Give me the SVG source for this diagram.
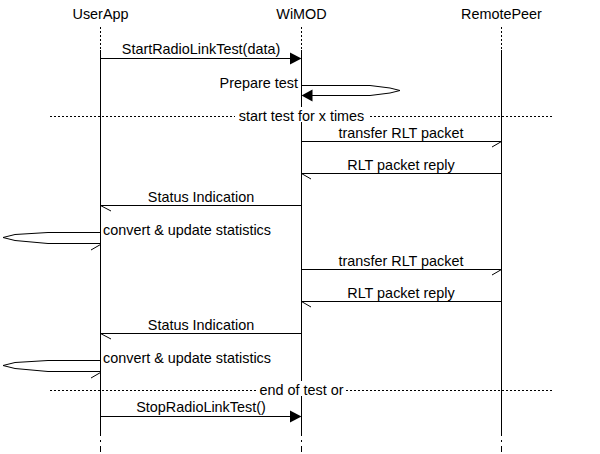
<svg xmlns="http://www.w3.org/2000/svg" width="600" height="454" viewBox="0 0 600 454">
<style>
text{font-family:"Liberation Sans",Arial,sans-serif;font-size:14.4px;fill:#000}
.m{text-anchor:middle}
.e{text-anchor:end}
.ln{stroke:#000;stroke-width:1;fill:none}
.dot{stroke:#000;stroke-width:1;stroke-dasharray:2,2;fill:none}
.dd{stroke:#000;stroke-width:1;stroke-dasharray:6,4,2,4;fill:none}
.fill{fill:#000;stroke:none}
.bg{fill:#fff}
</style>
<rect width="600" height="454" fill="#fff"/>
<g id="UserApp">
<text class="m" x="100.5" y="19">UserApp</text>
<path class="dot" d="M100.5,27V50"/>
<path class="ln" d="M100.5,50V430"/>
<path class="dd" d="M100.5,430V454"/>
</g>
<g id="WiMOD">
<text class="m" x="301.5" y="19">WiMOD</text>
<path class="dot" d="M301.5,27V50"/>
<path class="ln" d="M301.5,50V430"/>
<path class="dd" d="M301.5,430V454"/>
</g>
<g id="RemotePeer">
<text class="m" x="501.5" y="19">RemotePeer</text>
<path class="dot" d="M501.5,27V50"/>
<path class="ln" d="M501.5,50V430"/>
<path class="dd" d="M501.5,430V454"/>
</g>
<g id="connectors">
<!-- StartRadioLinkTest -->
<path class="ln" d="M100.5,58.5H291"/>
<path class="fill" d="M301.5,58.5L290,52.5V64.5Z"/>
<text class="m" x="201" y="54">StartRadioLinkTest(data)</text>
<!-- Prepare test -->
<path class="ln" d="M301.5,85.5H370L390,88L400,90.5L390,93L370,95.5H311"/>
<path class="fill" d="M301.5,95.5L312.5,89.5V101.5Z"/>
<text class="e" x="298" y="88">Prepare test</text>
<!-- divider 1 -->
<path class="dot" d="M50,116.5H552"/>
<rect class="bg" x="235" y="107" width="133" height="15"/>
<text class="m" x="301.5" y="121">start test for x times</text>
<!-- block 1 -->
<path class="ln" d="M301.5,141.5H501.5M501.5,141.5L492,147"/>
<text class="m" x="401" y="138">transfer RLT packet</text>
<path class="ln" d="M501.5,173.5H301.5M301.5,173.5L311,179"/>
<text class="m" x="401" y="170">RLT packet reply</text>
<path class="ln" d="M301.5,205.5H100.5M100.5,205.5L111,211"/>
<text class="m" x="201" y="202">Status Indication</text>
<path class="ln" d="M100.5,232.5H48L15,234.5L3,237.5L15,240.5L48,243.5H100.5M100.5,244.5L91,250"/>
<text x="103" y="235">convert &amp; update statistics</text>
<!-- block 2 -->
<path class="ln" d="M301.5,269.5H501.5M501.5,269.5L492,275"/>
<text class="m" x="401" y="266">transfer RLT packet</text>
<path class="ln" d="M501.5,301.5H301.5M301.5,301.5L311,307"/>
<text class="m" x="401" y="298">RLT packet reply</text>
<path class="ln" d="M301.5,333.5H100.5M100.5,333.5L111,339"/>
<text class="m" x="201" y="330">Status Indication</text>
<path class="ln" d="M100.5,360.5H48L15,362.5L3,365.5L15,368.5L48,371.5H100.5M100.5,372.5L91,378"/>
<text x="103" y="363">convert &amp; update statistics</text>
<!-- divider 2 -->
<path class="dot" d="M50,390.5H552"/>
<rect class="bg" x="257" y="381" width="89" height="15"/>
<text class="m" x="301.5" y="395">end of test or</text>
<!-- StopRadioLinkTest -->
<path class="ln" d="M100.5,416.5H291"/>
<path class="fill" d="M301.5,416.5L290,410.5V422.5Z"/>
<text class="m" x="201" y="412">StopRadioLinkTest()</text>
</g>
</svg>
